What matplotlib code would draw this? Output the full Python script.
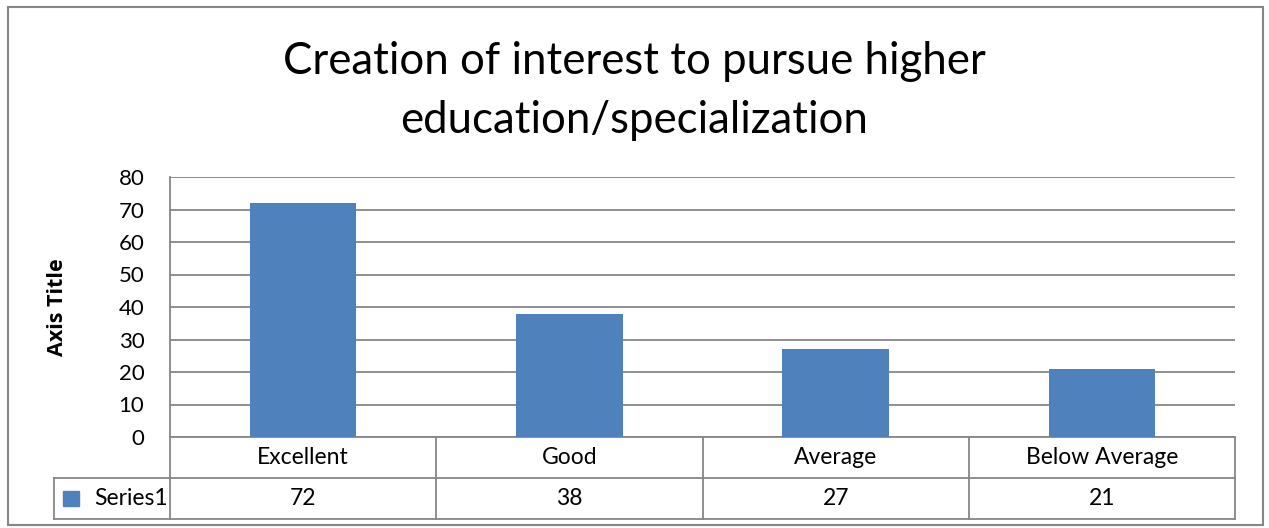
import matplotlib
matplotlib.use("Agg")
import matplotlib.pyplot as plt
from matplotlib.patches import Rectangle

categories = ["Excellent", "Good", "Average", "Below Average"]
values = [72, 38, 27, 21]
series_name = "Series1"
title = "Creation of interest to pursue higher\neducation/specialization"
y_label = "Axis Title"
y_ticks = [0, 10, 20, 30, 40, 50, 60, 70, 80]

bar_color = "#4F81BD"
grid_color = "#868686"

plt.rcParams['font.family'] = ['Lato', 'DejaVu Sans']

W, H = 1269, 528
fig = plt.figure(figsize=(W / 100, H / 100), dpi=100)

# outer chart border
fig.patches.append(Rectangle((8 / W, 1 - 525 / H), (1263 - 8) / W, (525 - 7) / H,
                             transform=fig.transFigure, fill=False,
                             edgecolor=grid_color, linewidth=1.5))

left, right, top, bottom = 170, 1235, 177, 437
ax = fig.add_axes([left / W, 1 - bottom / H, (right - left) / W, (bottom - top) / H])

x = list(range(len(categories)))
ax.bar(x, values, width=0.4, color=bar_color, zorder=3)
ax.set_xlim(-0.5, len(categories) - 0.5)
ax.set_ylim(0, 80)
ax.set_yticks(y_ticks)
ax.tick_params(axis='y', length=0, labelsize=16, pad=18.5)
ax.set_xticks([])
ax.yaxis.grid(True, color=grid_color, linewidth=1.3, zorder=0)
for s in ["top", "right"]:
    ax.spines[s].set_visible(False)
ax.spines["left"].set_color(grid_color)
ax.spines["left"].set_linewidth(1.3)
ax.spines["bottom"].set_color(grid_color)
ax.spines["bottom"].set_linewidth(1.3)
ax.set_ylabel(y_label, fontsize=15.5, fontweight='bold', family=['Open Sans', 'DejaVu Sans'])
ax.yaxis.set_label_coords((68 - left) / (right - left), 0.5)

fig.text(0.5, 1 - 91 / H, title, ha='center', va='center', fontsize=31.5,
         linespacing=1.55)

# data table below axes (axes-fraction coords for y)
row_h = 41 / (bottom - top)
trans = ax.get_xaxis_transform()
lw = 1.3
legend_left = -0.5 - (left - 54) / ((right - left) / len(categories))
y1 = -row_h
y2 = -2 * row_h
ax.plot([legend_left, 3.5], [y1, y1], transform=trans, color=grid_color, lw=lw, clip_on=False)
ax.plot([legend_left, 3.5], [y2, y2], transform=trans, color=grid_color, lw=lw, clip_on=False)
for xi in [-0.5, 0.5, 1.5, 2.5, 3.5]:
    ax.plot([xi, xi], [0, y2], transform=trans, color=grid_color, lw=lw, clip_on=False)
ax.plot([legend_left, legend_left], [y1, y2], transform=trans, color=grid_color, lw=lw, clip_on=False)

for i, (c, v) in enumerate(zip(categories, values)):
    ax.text(i, -0.5 * row_h, c, transform=trans, ha='center', va='center', fontsize=16.5)
    ax.text(i, -1.5 * row_h, str(v), transform=trans, ha='center', va='center', fontsize=16.5)

ax.text(-0.5 - 0.01, -1.5 * row_h, series_name, transform=trans, ha='right', va='center', fontsize=16.5)
ax.add_patch(Rectangle((legend_left + 0.035, -1.5 * row_h - 0.03), 0.058, 0.06,
                       transform=trans, color=bar_color, clip_on=False))

plt.savefig("out.png", dpi=100)
